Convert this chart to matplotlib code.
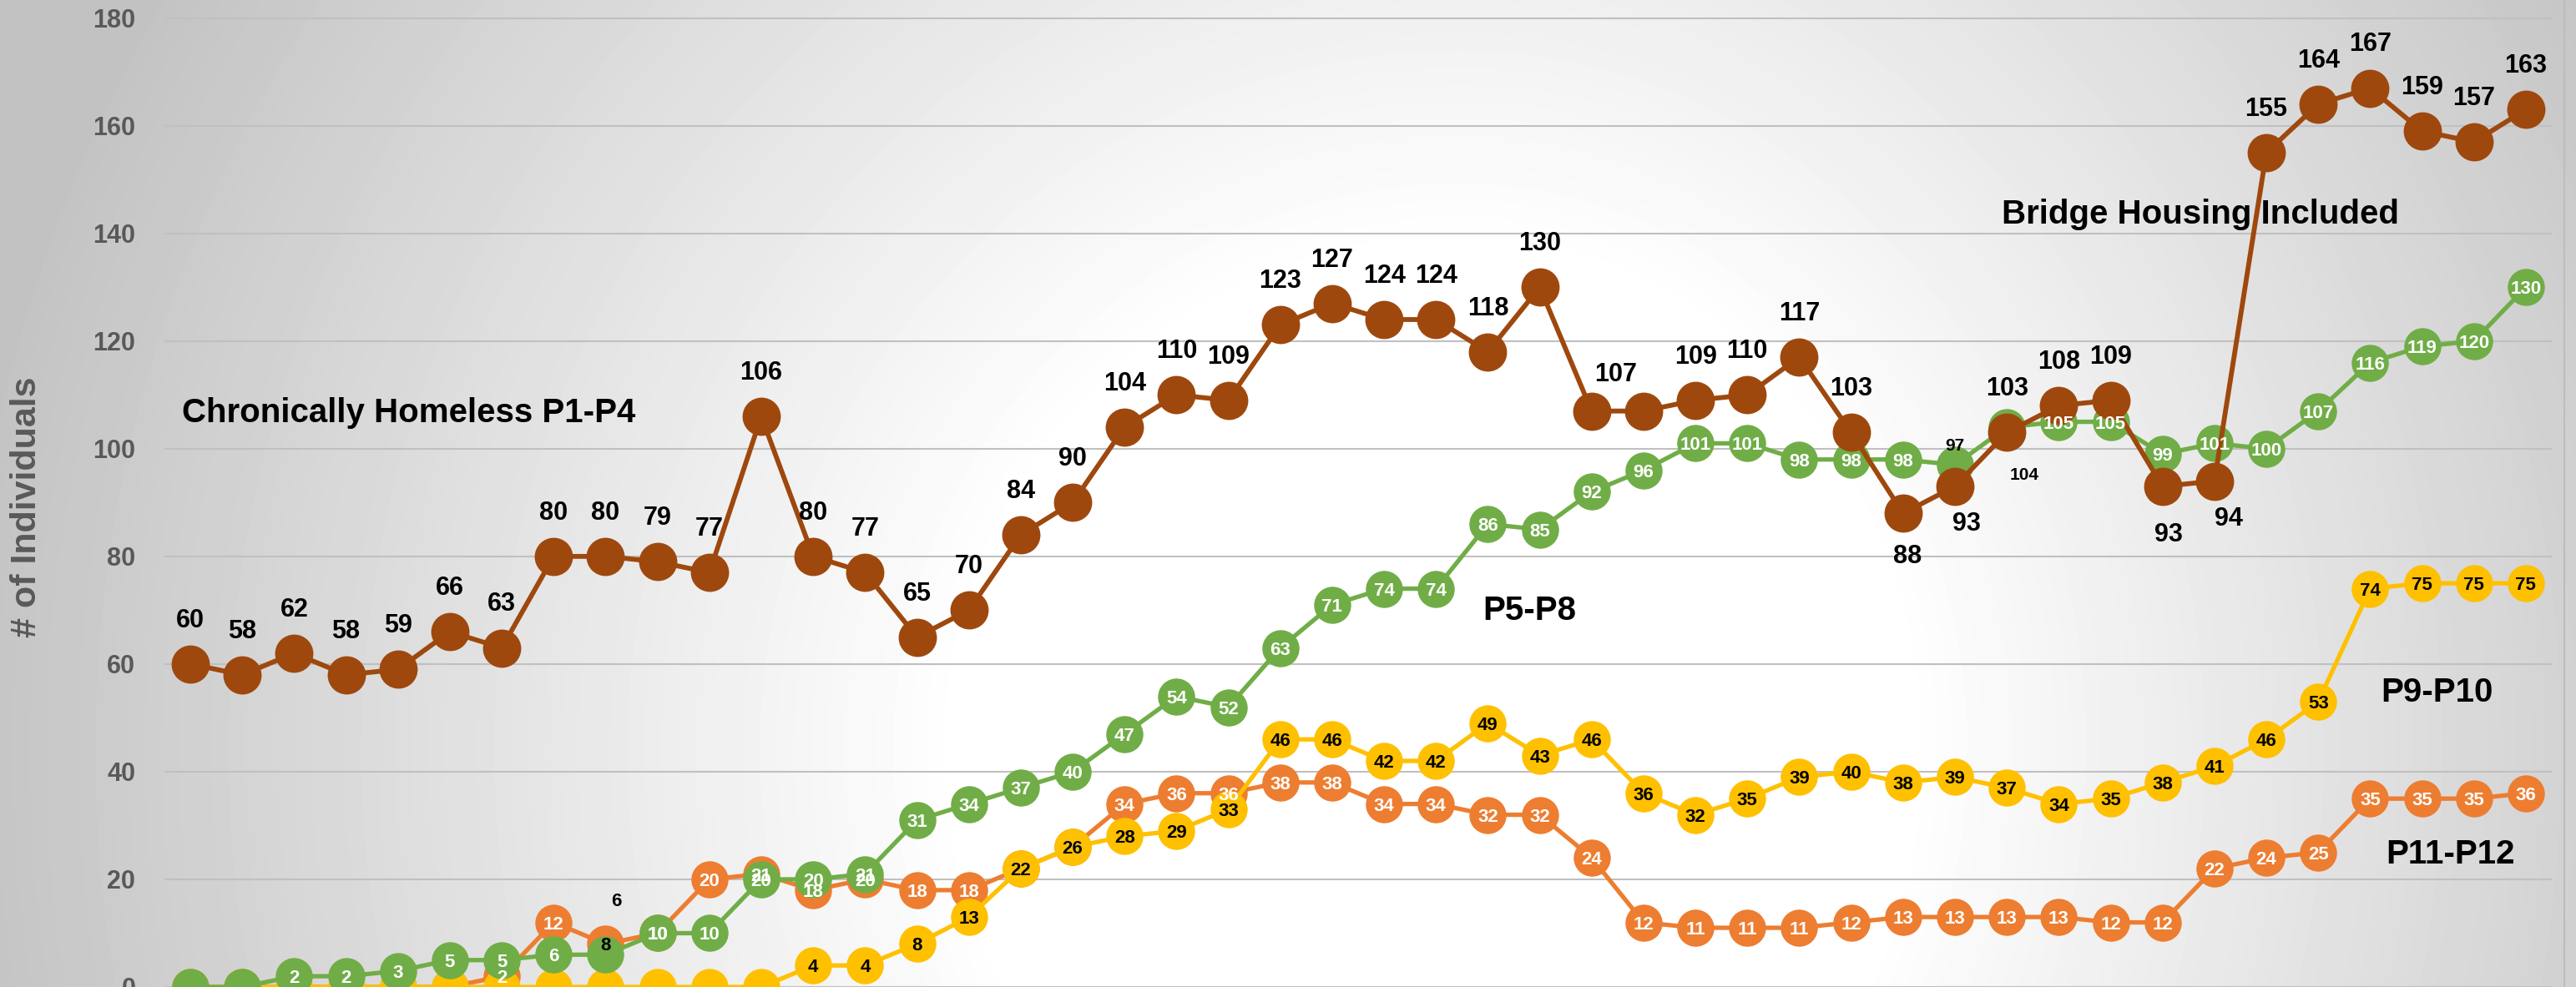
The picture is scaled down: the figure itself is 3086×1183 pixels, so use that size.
# plot.py - homeless counts by priority group, excel-style line chart

import numpy as np
import matplotlib
matplotlib.use("Agg")
import matplotlib.pyplot as plt
from matplotlib.lines import Line2D

# data (46 reporting periods)
chronic = [60, 58, 62, 58, 59, 66, 63, 80, 80, 79, 77, 106, 80, 77, 65, 70,
           84, 90, 104, 110, 109, 123, 127, 124, 124, 118, 130, 107, 107, 109,
           110, 117, 103, 88, 93, 103, 108, 109, 93, 94, 155, 164, 167, 159,
           157, 163]
p5_p8 = [0, 0, 2, 2, 3, 5, 5, 6, 6, 10, 10, 20, 20, 21, 31, 34, 37, 40, 47,
         54, 52, 63, 71, 74, 74, 86, 85, 92, 96, 101, 101, 98, 98, 98, 97,
         104, 105, 105, 99, 101, 100, 107, 116, 119, 120, 130]
p9_p10 = [0, 0, 0, 0, 0, 0, 0, 0, 0, 0, 0, 0, 4, 4, 8, 13, 22, 26, 28, 29,
          33, 46, 46, 42, 42, 49, 43, 46, 36, 32, 35, 39, 40, 38, 39, 37, 34,
          35, 38, 41, 46, 53, 74, 75, 75, 75]
p11_p12 = [0, 0, 0, 0, 0, 0, 2, 12, 8, 10, 20, 21, 18, 20, 18, 18, 22, 26,
           34, 36, 36, 38, 38, 34, 34, 32, 32, 24, 12, 11, 11, 11, 12, 13, 13,
           13, 13, 12, 12, 22, 24, 25, 35, 35, 35, 36]

y_ticks = [0, 20, 40, 60, 80, 100, 120, 140, 160, 180]

# series callouts: (text, left x index, y value)
callouts = [
    ("Chronically Homeless P1-P4", -0.16, 107.3),
    ("P5-P8", 24.9, 70.6),
    ("Bridge Housing Included", 34.9, 144.2),
    ("P9-P10", 42.2, 55.3),
    ("P11-P12", 42.3, 25.2),
]

plt.rcParams["font.family"] = ["Liberation Sans", "DejaVu Sans"]
plt.rcParams["font.weight"] = "bold"

W, H = 3086, 1183
fig = plt.figure(figsize=(W / 100, H / 100), dpi=100)

# radial grey background
bg = fig.add_axes([0, 0, 1, 1], zorder=0)
yy, xx = np.mgrid[0:H, 0:W]
dx = xx - 1750.0
dx = np.where(dx > 0, dx * 1.12, dx)
dist = np.hypot(dx, yy - 900.0)
shade = 255 - 60 * np.clip((dist - 600) / 1200, 0, 1)
bg.imshow(shade, cmap="gray", vmin=0, vmax=255, aspect="auto",
          extent=(0, 1, 0, 1), origin="upper", interpolation="bilinear")
bg.set_axis_off()

ax = fig.add_axes([197 / W, 0, 2860 / W, 1], zorder=1)
ax.patch.set_alpha(0)

x = np.arange(len(chronic))

# drawing order: orange, yellow, green, brown on top
series = [
    ("p11", p11_p12, "#ED7D31", "white", 31),
    ("p9", p9_p10, "#FFC000", "black", 31),
    ("p5", p5_p8, "#70AD47", "white", 31),
]
for i, (name, vals, col, txtcol, ms) in enumerate(series):
    ax.plot(x, vals, "-o", color=col, lw=3.8, ms=ms, zorder=3 + i)

ax.plot(x, chronic, "-o", color="#9E480E", lw=4.2, ms=32, zorder=7)

# label overrides: (series, index) -> (text, dx pt, dy pt, size, color)
special = {
    ("p11", 8): ("8", 0, 0, 16, "black"),
    ("p5", 8): ("6", 9, 48, 16, "black"),
    ("p5", 34): ("97", 0, 18, 15, "black"),
    ("p5", 35): ("104", 15, -40, 15, "black"),
    ("chr", 27): ("107", 21, 34, 22, "black"),
    ("chr", 28): ("", 0, 0, 22, "black"),
    ("chr", 33): ("88", 4, -35, 22, "black"),
    ("chr", 34): ("93", 10, -30, 22, "black"),
    ("chr", 38): ("93", 5, -39, 22, "black"),
    ("chr", 39): ("94", 12, -30, 22, "black"),
}

for name, vals, col, txtcol, ms in series:
    for i, v in enumerate(vals):
        if v == 0:
            continue  # sits below the visible area
        txt, ox, oy, fs, c = special.get((name, i), (str(v), 0, 0, 16, txtcol))
        if not txt:
            continue
        ax.annotate(txt, (i, v), xytext=(ox, oy), textcoords="offset points",
                    ha="center", va="center_baseline", fontsize=fs,
                    fontweight="bold", color=c, zorder=10)

for i, v in enumerate(chronic):
    txt, ox, oy, fs, c = special.get(("chr", i), (str(v), 0, 40, 22, "black"))
    if not txt:
        continue
    ax.annotate(txt, (i, v), xytext=(ox, oy), textcoords="offset points",
                ha="center", va="center_baseline", fontsize=fs,
                fontweight="bold", color=c, zorder=10)

for txt, cx, cy in callouts:
    ax.text(cx, cy, txt, ha="left", va="center_baseline", fontsize=29,
            fontweight="bold", color="black", zorder=10)

# axes styling
ax.set_xlim(-0.5, 45.5)
ax.set_ylim(1.55, 183.36)
ax.set_yticks(y_ticks)
ax.set_xticks([])
ax.tick_params(axis="y", length=0, pad=25, labelsize=22, labelcolor="#595959")
for lab in ax.get_yticklabels():
    lab.set_fontweight("bold")
ax.yaxis.grid(True, color="#c0c0c0", lw=1.5)
ax.set_axisbelow(True)
for s in ax.spines.values():
    s.set_visible(False)

ax.set_ylabel("# of Individuals", fontsize=31, fontweight="bold", color="#595959")
ax.yaxis.set_label_coords((52 - 197) / 2860, 0.486)

fig.add_artist(Line2D([3072 / W, 3072 / W], [0, 1], transform=fig.transFigure,
                      color="#bdbdbd", lw=1.5))

fig.savefig("out.png", dpi=100)
